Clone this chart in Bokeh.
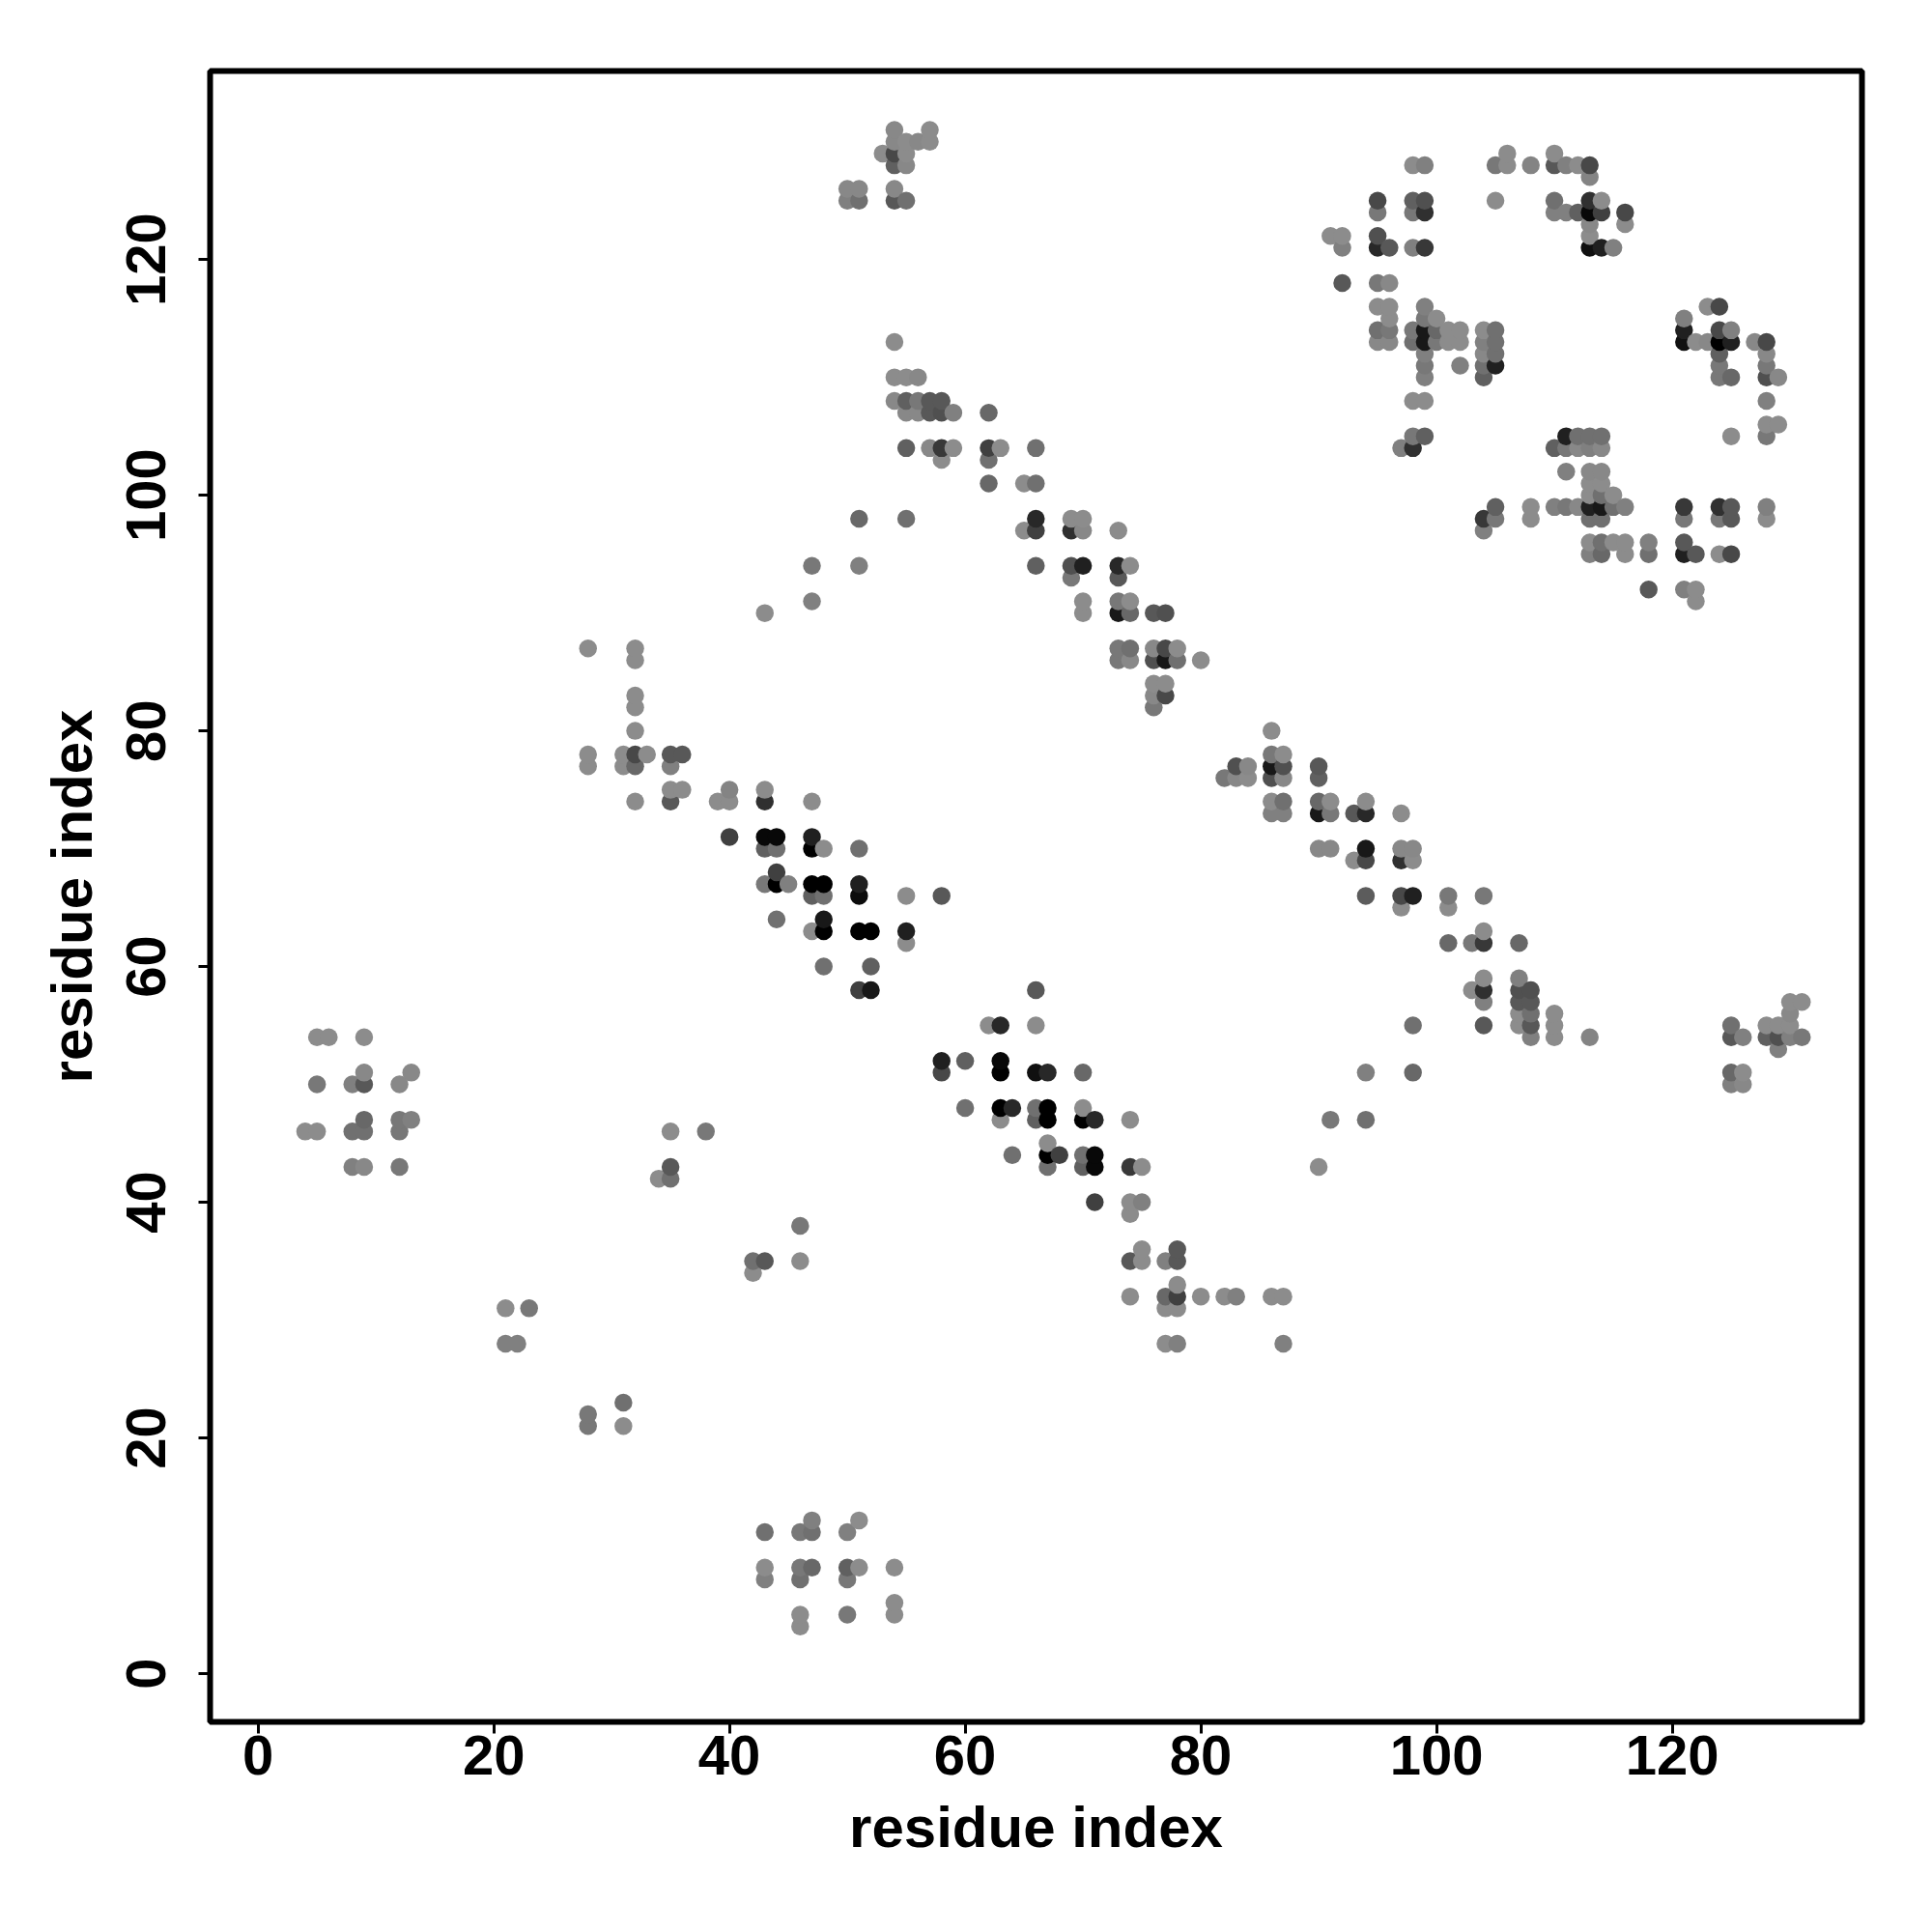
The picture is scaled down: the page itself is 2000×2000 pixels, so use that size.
from bokeh.embed import file_html
from bokeh.models import ColumnDataSource, FixedTicker, Range1d
from bokeh.plotting import figure
from bokeh.resources import INLINE

tick_values = [0, 20, 40, 60, 80, 100, 120]
axis_title = "residue index"

row_y = [131, 130, 129, 128, 127, 126, 125, 124, 123, 122, 121, 118, 116, 115, 114, 113, 112, 111, 110, 108,
         107, 106, 105, 104, 103, 102, 101, 100, 99, 98, 97, 96, 95, 94, 93, 92, 91, 90, 87, 86,
         84, 83, 82, 80, 78, 77, 76, 75, 74, 73, 71, 70, 69, 68, 67, 66, 65, 64, 63, 62,
         60, 59, 58, 57, 56, 55, 54, 53, 52, 51, 50, 48, 47, 46, 45, 44, 43, 42, 40, 39,
         38, 36, 35, 34, 33, 32, 31, 28, 23, 22, 21, 13, 12, 9, 8, 6, 5, 4]

row_x = [
    [54, 57],
    [54, 55, 56, 57],
    [53, 54, 55, 106, 110],
    [54, 55, 98, 99, 105, 106, 108, 110, 111, 112, 113],
    [113],
    [50, 51, 54],
    [50, 51, 54, 55, 95, 98, 99, 105, 110, 113, 114],
    [95, 98, 99, 110, 111, 112, 113, 114, 116],
    [113, 116],
    [91, 92, 95, 113],
    [92, 95, 96, 98, 99, 113, 114, 115],
    [92, 95, 96],
    [95, 96, 99, 123, 124],
    [96, 99, 100, 121],
    [95, 96, 98, 99, 100, 101, 102, 104, 105, 121, 124, 125],
    [54, 95, 96, 98, 99, 100, 101, 102, 104, 105, 121, 122, 123, 124, 125, 127, 128],
    [99, 104, 105, 124, 128],
    [99, 102, 104, 105, 124, 128],
    [54, 55, 56, 99, 104, 124, 125, 128, 129],
    [54, 55, 56, 57, 58, 98, 99, 128],
    [55, 56, 57, 58, 59, 62],
    [128, 129],
    [98, 99, 111, 112, 113, 114, 125, 128],
    [55, 57, 58, 59, 62, 63, 66, 97, 98, 110, 111, 112, 113, 114],
    [58, 62],
    [111, 113, 114],
    [62, 65, 66, 113, 114],
    [113, 114, 115],
    [105, 108, 110, 111, 112, 113, 114, 115, 116, 121, 124, 125, 128],
    [51, 55, 66, 69, 70, 104, 105, 108, 113, 114, 121, 124, 125, 128],
    [65, 66, 69, 70, 73, 104],
    [113, 114, 115, 116, 118, 121],
    [113, 114, 116, 118, 121, 122, 124, 125],
    [47, 51, 66, 69, 70, 73, 74],
    [69, 73],
    [118, 121, 122],
    [47, 70, 73, 74, 122],
    [43, 70, 73, 74, 76, 77],
    [28, 32, 73, 74, 76, 77, 78],
    [32, 73, 74, 76, 77, 78, 80],
    [76, 77],
    [32, 76, 77],
    [32, 76],
    [32, 86],
    [28, 31, 32, 33, 35, 36, 86, 87],
    [28, 31, 32, 35, 83, 84, 86, 87, 90],
    [82, 83, 84, 86, 87, 90],
    [35, 36, 40, 43],
    [32, 35, 39, 40, 43, 47, 86, 87, 90, 91, 94],
    [86, 87, 90, 91, 93, 94, 97],
    [40, 43, 44, 47],
    [43, 44, 47, 48, 51, 90, 91, 94, 97, 98],
    [93, 94, 97, 98],
    [44],
    [43, 44, 45, 47, 48, 51],
    [47, 48, 51, 55, 58, 94, 97, 98, 101, 104],
    [97, 101],
    [44, 48],
    [47, 48, 51, 52, 55, 104],
    [55, 101, 103, 104, 107],
    [48, 52],
    [104, 107],
    [51, 52, 66, 103, 104, 107, 108],
    [104, 107, 108, 130, 131],
    [107, 108, 110, 130],
    [62, 63, 66, 98, 104, 107, 108, 110, 125, 128, 129, 130],
    [5, 6, 9, 108, 110, 113, 125, 126, 128, 129, 130, 131],
    [129],
    [58, 60, 63],
    [9, 13, 58, 63, 66, 67, 70, 94, 98, 125, 126],
    [5, 8, 9, 12, 125, 126],
    [60, 63, 64, 66, 67, 70],
    [9, 12, 13, 63, 66, 67, 70, 71, 74, 91, 94],
    [4, 5, 8, 9, 12, 35, 38],
    [67],
    [64, 67, 68, 70, 71],
    [8, 9, 12, 35, 67, 70, 71, 74, 75, 90],
    [34, 35],
    [71, 74, 75],
    [74],
    [46],
    [75, 78],
    [42, 43, 46, 74, 75, 77, 78],
    [42],
    [78],
    [74, 77, 78, 80, 82, 83, 86, 87],
    [21, 23, 77, 78],
    [21, 22, 77, 78, 87],
    [31],
    [28],
    [28, 31],
    [47, 51],
    [43, 46, 47, 50],
    [43, 46, 47, 50, 51, 54],
    [43, 46, 50],
    [54],
    [46, 50, 54],
    [46],
]

row_grey = [
    [0x88, 0x8c],
    [0x88, 0x8c, 0x88, 0x8c],
    [0x8c, 0x48, 0x8c, 0x8c, 0x8c],
    [0x60, 0x88, 0x8c, 0x80, 0x78, 0x8c, 0x84, 0x58, 0x80, 0x8c, 0x48],
    [0x84],
    [0x88, 0x88, 0x88],
    [0x80, 0x70, 0x58, 0x70, 0x48, 0x60, 0x50, 0x8c, 0x70, 0x30, 0x8c],
    [0x78, 0x78, 0x30, 0x80, 0x80, 0x60, 0x08, 0x40, 0x48],
    [0x88, 0x8c],
    [0x8c, 0x8c, 0x50, 0x8c],
    [0x80, 0x28, 0x58, 0x80, 0x38, 0x10, 0x20, 0x80],
    [0x58, 0x78, 0x88],
    [0x8c, 0x8c, 0x80, 0x8c, 0x48],
    [0x8c, 0x78, 0x8c, 0x80],
    [0x70, 0x78, 0x78, 0x18, 0x68, 0x8c, 0x8c, 0x8c, 0x70, 0x20, 0x48, 0x80],
    [0x8c, 0x88, 0x88, 0x70, 0x18, 0x78, 0x8c, 0x8c, 0x80, 0x70, 0x10, 0x8c, 0x88, 0x00, 0x20, 0x88, 0x48],
    [0x80, 0x88, 0x70, 0x60, 0x88],
    [0x78, 0x80, 0x70, 0x20, 0x78, 0x78],
    [0x8c, 0x8c, 0x88, 0x80, 0x60, 0x78, 0x68, 0x50, 0x88],
    [0x88, 0x60, 0x78, 0x58, 0x58, 0x8c, 0x8c, 0x80],
    [0x88, 0x88, 0x58, 0x50, 0x80, 0x68],
    [0x8c, 0x8c],
    [0x78, 0x60, 0x20, 0x70, 0x70, 0x70, 0x8c, 0x78],
    [0x60, 0x88, 0x38, 0x8c, 0x40, 0x8c, 0x70, 0x80, 0x30, 0x60, 0x78, 0x88, 0x80, 0x88],
    [0x8c, 0x70],
    [0x80, 0x88, 0x88],
    [0x68, 0x8c, 0x70, 0x8c, 0x8c],
    [0x8c, 0x70, 0x8c],
    [0x60, 0x8c, 0x80, 0x78, 0x88, 0x20, 0x18, 0x70, 0x80, 0x38, 0x30, 0x58, 0x80],
    [0x68, 0x70, 0x28, 0x8c, 0x8c, 0x38, 0x78, 0x8c, 0x70, 0x70, 0x78, 0x78, 0x58, 0x8c],
    [0x8c, 0x40, 0x30, 0x88, 0x8c, 0x80],
    [0x8c, 0x70, 0x8c, 0x8c, 0x80, 0x58],
    [0x80, 0x68, 0x8c, 0x70, 0x20, 0x58, 0x8c, 0x48],
    [0x78, 0x80, 0x60, 0x50, 0x20, 0x28, 0x8c],
    [0x78, 0x58],
    [0x58, 0x80, 0x8c],
    [0x80, 0x8c, 0x78, 0x8c, 0x8c],
    [0x8c, 0x8c, 0x18, 0x68, 0x58, 0x50],
    [0x8c, 0x8c, 0x78, 0x70, 0x88, 0x48, 0x8c],
    [0x8c, 0x78, 0x88, 0x50, 0x18, 0x70, 0x8c],
    [0x8c, 0x8c],
    [0x8c, 0x88, 0x48],
    [0x8c, 0x78],
    [0x8c, 0x8c],
    [0x8c, 0x8c, 0x48, 0x8c, 0x58, 0x58, 0x78, 0x8c],
    [0x8c, 0x8c, 0x68, 0x80, 0x50, 0x88, 0x18, 0x50, 0x58],
    [0x78, 0x88, 0x8c, 0x50, 0x88, 0x60],
    [0x8c, 0x8c, 0x84, 0x8c],
    [0x8c, 0x58, 0x8c, 0x8c, 0x30, 0x8c, 0x8c, 0x70, 0x68, 0x8c, 0x8c],
    [0x80, 0x80, 0x18, 0x78, 0x58, 0x28, 0x8c],
    [0x40, 0x08, 0x08, 0x20],
    [0x60, 0x70, 0x00, 0x8c, 0x70, 0x88, 0x88, 0x18, 0x88, 0x88],
    [0x8c, 0x48, 0x30, 0x8c],
    [0x40],
    [0x78, 0x00, 0x80, 0x00, 0x00, 0x20],
    [0x60, 0x70, 0x0c, 0x8c, 0x58, 0x5c, 0x48, 0x20, 0x78, 0x78],
    [0x8c, 0x8c],
    [0x70, 0x18],
    [0x8c, 0x00, 0x00, 0x00, 0x20, 0x8c],
    [0x8c, 0x68, 0x78, 0x38, 0x68],
    [0x70, 0x60],
    [0x8c, 0x80],
    [0x40, 0x18, 0x58, 0x8c, 0x30, 0x50, 0x50],
    [0x80, 0x58, 0x58, 0x8c, 0x8c],
    [0x8c, 0x70, 0x8c, 0x88],
    [0x8c, 0x28, 0x8c, 0x70, 0x58, 0x8c, 0x58, 0x8c, 0x70, 0x8c, 0x8c, 0x8c],
    [0x8c, 0x8c, 0x8c, 0x80, 0x8c, 0x84, 0x58, 0x80, 0x60, 0x50, 0x80, 0x78],
    [0x80],
    [0x20, 0x60, 0x08],
    [0x88, 0x88, 0x48, 0x00, 0x10, 0x28, 0x68, 0x80, 0x68, 0x68, 0x8c],
    [0x78, 0x80, 0x58, 0x88, 0x80, 0x88],
    [0x70, 0x00, 0x28, 0x70, 0x00, 0x8c],
    [0x68, 0x78, 0x80, 0x8c, 0x60, 0x00, 0x00, 0x28, 0x8c, 0x78, 0x70],
    [0x8c, 0x8c, 0x70, 0x70, 0x78, 0x8c, 0x78],
    [0x8c],
    [0x70, 0x00, 0x40, 0x70, 0x08],
    [0x80, 0x88, 0x78, 0x58, 0x70, 0x60, 0x08, 0x38, 0x8c, 0x8c],
    [0x8c, 0x70],
    [0x40, 0x8c, 0x80],
    [0x8c],
    [0x78],
    [0x8c, 0x58],
    [0x70, 0x58, 0x8c, 0x58, 0x8c, 0x80, 0x58],
    [0x8c],
    [0x8c],
    [0x8c, 0x68, 0x40, 0x8c, 0x8c, 0x80, 0x8c, 0x8c],
    [0x8c, 0x78, 0x8c, 0x8c],
    [0x80, 0x80, 0x8c, 0x80, 0x80],
    [0x70],
    [0x78],
    [0x78, 0x8c],
    [0x80, 0x8c],
    [0x70, 0x78, 0x70, 0x80],
    [0x8c, 0x78, 0x68, 0x60, 0x8c, 0x8c],
    [0x80, 0x70, 0x78],
    [0x8c],
    [0x8c, 0x78, 0x8c],
    [0x8c],
]

# Each contact is drawn opaque; later residues sit on top of earlier ones.
contacts = sorted(
    (x, y, g)
    for y, xs, gs in zip(row_y, row_x, row_grey, strict=True)
    for x, g in zip(xs, gs, strict=True)
)

source = ColumnDataSource(data=dict(
    x=[c[0] for c in contacts],
    y=[c[1] for c in contacts],
    color=["#%02x%02x%02x" % (c[2], c[2], c[2]) for c in contacts],
))

p = figure(
    width=1984, height=1984,
    frame_width=1710, frame_height=1709,
    min_border_left=217, min_border_right=57, min_border_top=73, min_border_bottom=202,
    x_range=Range1d(-4.07, 136.1), y_range=Range1d(-4.1, 136.0),
    output_backend="svg", toolbar_location=None,
    background_fill_color="white", border_fill_color="white",
)
p.scatter("x", "y", source=source, size=18.5, fill_color="color", line_color=None, marker="circle")

p.grid.visible = False
p.outline_line_color = "black"
p.outline_line_width = 6
for axis in (p.xaxis[0], p.yaxis[0]):
    axis.ticker = FixedTicker(ticks=tick_values)
    axis.axis_label = axis_title
    axis.axis_line_color = None
    axis.major_tick_line_color = "black"
    axis.major_tick_line_width = 3
    axis.major_tick_out = 12
    axis.major_tick_in = 0
    axis.minor_tick_line_color = None
    axis.major_label_text_font = "Liberation Sans"
    axis.major_label_text_font_style = "bold"
    axis.major_label_text_font_size = "58px"
    axis.major_label_text_color = "black"
    axis.axis_label_text_font = "Liberation Sans"
    axis.axis_label_text_font_style = "bold"
    axis.axis_label_text_font_size = "60px"
    axis.axis_label_text_color = "black"
p.xaxis[0].major_label_standoff = 2
p.xaxis[0].axis_label_standoff = 18
p.yaxis[0].major_label_standoff = 34
p.yaxis[0].axis_label_standoff = 21
p.yaxis[0].major_label_orientation = "vertical"

open("out.html", "w").write(file_html(p, INLINE))
